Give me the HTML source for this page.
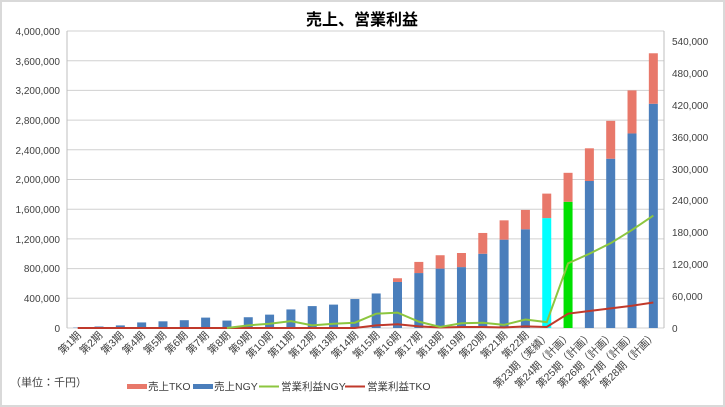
<!DOCTYPE html>
<html><head><meta charset="utf-8"><style>
html,body{margin:0;padding:0;background:#fff}
svg{display:block;font-family:"Liberation Sans","Noto Sans CJK JP",sans-serif}
</style></head><body>
<svg id="c" width="725" height="407" viewBox="0 0 725 407">
<rect x="1" y="1" width="723" height="405" fill="#fff" stroke="#d9d9d9" stroke-width="2"/>
<text x="362" y="25" font-size="16" font-weight="bold" text-anchor="middle" fill="#000">売上、営業利益</text>
<g id="grid" stroke="#d0d0d0" stroke-width="1"></g>
<line x1="67" y1="31" x2="67" y2="328" stroke="#bfbfbf"/>
<line x1="664" y1="31" x2="664" y2="328" stroke="#bfbfbf"/>
<g id="bars"></g>
<g id="lines"></g>
<g font-size="10" fill="#404040" text-anchor="end">
<text x="60" y="35">4,000,000</text><text x="60" y="65">3,600,000</text><text x="60" y="94">3,200,000</text><text x="60" y="124">2,800,000</text><text x="60" y="154">2,400,000</text><text x="60" y="183">2,000,000</text><text x="60" y="213">1,600,000</text><text x="60" y="243">1,200,000</text><text x="60" y="272">800,000</text><text x="60" y="302">400,000</text><text x="60" y="332">0</text>
</g>
<g font-size="10" fill="#404040" text-anchor="start">
<text x="672" y="45">540,000</text><text x="672" y="77">480,000</text><text x="672" y="109">420,000</text><text x="672" y="141">360,000</text><text x="672" y="173">300,000</text><text x="672" y="204">240,000</text><text x="672" y="236">180,000</text><text x="672" y="268">120,000</text><text x="672" y="300">60,000</text><text x="672" y="332">0</text>
</g>
<g font-size="10.5" fill="#404040" text-anchor="end">
<text transform="translate(81.7,336) rotate(-45)">第1期</text>
<text transform="translate(103,336) rotate(-45)">第2期</text>
<text transform="translate(124.3,336) rotate(-45)">第3期</text>
<text transform="translate(145.7,336) rotate(-45)">第4期</text>
<text transform="translate(167,336) rotate(-45)">第5期</text>
<text transform="translate(188.3,336) rotate(-45)">第6期</text>
<text transform="translate(209.6,336) rotate(-45)">第7期</text>
<text transform="translate(231,336) rotate(-45)">第8期</text>
<text transform="translate(252.3,336) rotate(-45)">第9期</text>
<text transform="translate(273.6,336) rotate(-45)">第10期</text>
<text transform="translate(294.9,336) rotate(-45)">第11期</text>
<text transform="translate(316.2,336) rotate(-45)">第12期</text>
<text transform="translate(337.5,336) rotate(-45)">第13期</text>
<text transform="translate(358.9,336) rotate(-45)">第14期</text>
<text transform="translate(380.2,336) rotate(-45)">第15期</text>
<text transform="translate(401.5,336) rotate(-45)">第16期</text>
<text transform="translate(422.8,336) rotate(-45)">第17期</text>
<text transform="translate(444.1,336) rotate(-45)">第18期</text>
<text transform="translate(465.5,336) rotate(-45)">第19期</text>
<text transform="translate(486.8,336) rotate(-45)">第20期</text>
<text transform="translate(508.1,336) rotate(-45)">第21期</text>
<text transform="translate(529.4,336) rotate(-45)">第22期</text>
<text transform="translate(550.7,336) rotate(-45)">第23期（実績）</text>
<text transform="translate(572,336) rotate(-45)">第24期（計画）</text>
<text transform="translate(593.4,336) rotate(-45)">第25期（計画）</text>
<text transform="translate(614.7,336) rotate(-45)">第26期（計画）</text>
<text transform="translate(636,336) rotate(-45)">第27期（計画）</text>
<text transform="translate(657.3,336) rotate(-45)">第28期（計画）</text>
</g>
<text x="10" y="386" font-size="11" fill="#404040">（単位：千円）</text>
<g font-size="10.5" fill="#404040">
<rect x="127" y="384" width="20" height="5" fill="#e8786a"/><text x="148" y="390">売上TKO</text>
<rect x="193" y="384" width="20" height="5" fill="#4a7ebb"/><text x="214" y="390">売上NGY</text>
<line x1="259" y1="386.5" x2="279" y2="386.5" stroke="#8cc63f" stroke-width="2"/><text x="281" y="390">営業利益NGY</text>
<line x1="345" y1="386.5" x2="365" y2="386.5" stroke="#c0392b" stroke-width="2"/><text x="367" y="390">営業利益TKO</text>
</g>
</svg>
<script>
var NS="http://www.w3.org/2000/svg";
function el(p,t,a){var e=document.createElementNS(NS,t);for(var k in a)e.setAttribute(k,a[k]);document.getElementById(p).appendChild(e);return e;}
for(var i=0;i<=10;i++){var y=31+i*29.7;el("grid","line",{x1:67,x2:664,y1:y,y2:y});}
var ngy=[5,20,35,75,90,105,140,100,145,180,250,295,315,390,465,620,740,800,820,1000,1190,1330,1480,1700,1980,2280,2620,3020];
var tot=[5,20,35,75,90,105,140,100,145,180,250,295,315,390,465,670,890,980,1010,1280,1450,1590,1810,2090,2420,2790,3200,3700];
var gN=[0,0,0,0,0,0,0,0,5,8,13,5,8,10,27,29,12,2,9,10,6,16,11,122,140,160,185,212];
var rT=[0,0,0,0,0,0,0,0,0,0,0,0,0,0,5,7,3,1,2,2,1,3,2,27,32,37,42,48];
function yl(v){return 328-v*1000/4000000*297;}
function yr(v){return 328-v*1000/540000*286.3;}
var pg=[],pr=[];
for(var i=0;i<28;i++){var cx=77.7+21.32*i;
 var c=i==22?"#00ffff":i==23?"#00e000":"#4a7ebb";
 el("bars","rect",{x:cx-4.5,y:yl(ngy[i]),width:9,height:328-yl(ngy[i]),fill:c});
 if(tot[i]>ngy[i])el("bars","rect",{x:cx-4.5,y:yl(tot[i]),width:9,height:yl(ngy[i])-yl(tot[i]),fill:"#e8786a"});
 if(i>=7)pg.push(cx+","+yr(gN[i]));pr.push(cx+","+yr(rT[i]));}
el("lines","polyline",{points:pr.join(" "),fill:"none",stroke:"#c0392b","stroke-width":2});
el("lines","polyline",{points:pg.join(" "),fill:"none",stroke:"#8cc63f","stroke-width":2});
</script>
</body></html>
